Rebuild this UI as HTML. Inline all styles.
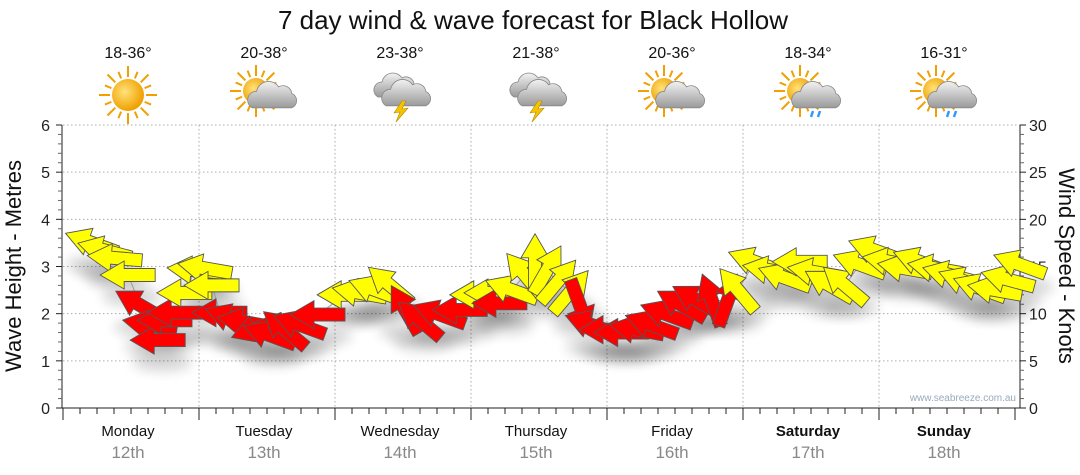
<!DOCTYPE html>
<html><head><meta charset="utf-8">
<style>
body{margin:0;background:#fff;font-family:"Liberation Sans",Arial,sans-serif;}
svg{display:block}
</style></head>
<body>
<svg id="chart" width="1080" height="475" viewBox="0 0 1080 475" xmlns="http://www.w3.org/2000/svg">
<defs>
<filter id="sh" x="-50%" y="-50%" width="200%" height="200%"><feGaussianBlur stdDeviation="6"/></filter>
<radialGradient id="sunG" cx="0.4" cy="0.4" r="0.6"><stop offset="0" stop-color="#ffe27a"/><stop offset="1" stop-color="#f0a000"/></radialGradient>
<linearGradient id="cloudG" x1="0" y1="0" x2="0" y2="1"><stop offset="0" stop-color="#f2f2f2"/><stop offset="1" stop-color="#9a9a9a"/></linearGradient>
</defs>
<text x="533" y="29" font-size="26" text-anchor="middle" fill="#111">7 day wind &amp; wave forecast for Black Hollow</text>
<g id="grid"></g>
<g id="axes"></g>
<g id="shadows"></g>
<polyline id="wline" fill="none" stroke="#999" stroke-width="1"/>
<g id="arrows"></g>
<g id="days"></g>
<text transform="translate(21,266) rotate(-90)" font-size="22" text-anchor="middle" fill="#111">Wave Height - Metres</text>
<text transform="translate(1059,266) rotate(90)" font-size="22" text-anchor="middle" fill="#111">Wind Speed - Knots</text>
<text x="1016" y="401" font-size="10" text-anchor="end" fill="#9ab">www.seabreeze.com.au</text>
</svg>
<script>
const dayNames=["Monday","Tuesday","Wednesday","Thursday","Friday","Saturday","Sunday"];
const dayDates=["12th","13th","14th","15th","16th","17th","18th"];
const dayTemps=["18-36°","20-38°","23-38°","21-38°","20-36°","18-34°","16-31°"];
const dayIcons=["sun","suncloud","storm","storm","suncloud","sunrain","sunrain"];
const waveTicks=[0,1,2,3,4,5,6];
const windTicks=[0,5,10,15,20,25,30];
const hours=[5.1,7.4,9.2,11.5,13.6,15.4,16.8,18,19.8,21.5,23.3,25.1,26.3,27.7,29.8,32.1,34.4,36.5,39.2,41.8,45,49.8,52.4,55.1,57.7,60.4,63,66.5,70.1,73.2,75.7,77.1,79.2,81.5,83.3,85.4,87.3,89.5,91.2,93.3,96,98.6,101.3,103.9,106.6,109.2,111.9,114.5,117.3,119.1,122.1,124.8,127.4,130.1,132.7,135.3,138,140.6,143.3,145.9,148.6,151.2,153.9,156.5,159.2,161.8,164.5,166.8,168.9];
const knots=[17.5,16.7,15.9,14.1,10.9,8.8,7.2,9.3,10.1,12.2,14.6,14.8,13.0,10.1,9.5,9.1,8.5,7.7,8.3,8.8,9.9,12.0,12.2,12.5,13.0,10.4,9.3,9.9,10.4,12.0,12.2,11.1,12.5,14.1,15.5,14.6,13.4,12.3,10.9,8.8,8.3,8.0,8.3,8.8,9.9,10.9,11.4,11.4,11.4,12.5,15.5,14.6,13.8,15.5,14.4,13.0,13.0,15.2,16.7,15.5,14.8,15.5,14.8,14.1,13.4,12.7,12.5,13.6,15.2];
const directions=[200,195,185,180,210,190,180,180,180,180,185,190,180,180,200,190,160,200,220,200,180,180,190,200,220,240,220,200,180,180,180,180,200,230,270,300,310,310,70,200,180,180,190,200,200,210,210,250,290,230,200,190,200,180,190,210,220,200,200,190,190,200,190,195,200,200,190,195,200];
const colors=["Y","Y","Y","Y","R","R","R","R","R","Y","Y","Y","Y","R","R","R","R","R","R","R","R","Y","Y","Y","Y","R","R","R","R","Y","Y","R","Y","Y","Y","Y","Y","Y","R","R","R","R","R","R","R","R","R","R","R","Y","Y","Y","Y","Y","Y","Y","Y","Y","Y","Y","Y","Y","Y","Y","Y","Y","Y","Y","Y"];

const X0=63,X1=1015,YT=125,YB=408;
const xH=h=>X0+h*(X1-X0)/168;
const yW=m=>YB-m*(YB-YT)/6;
const yK=k=>YB-k*(YB-YT)/30;
const NS="http://www.w3.org/2000/svg";
function mk(tag,attrs,parent,txt){const e=document.createElementNS(NS,tag);for(const k in attrs)e.setAttribute(k,attrs[k]);if(txt!=null)e.textContent=txt;parent.appendChild(e);return e;}
const grid=document.getElementById('grid'),axes=document.getElementById('axes');
waveTicks.forEach(t=>{if(t>0){const l=mk('line',{x1:X0,x2:X1+5,y1:yW(t),y2:yW(t),stroke:'#aaa','stroke-dasharray':'1.5,2.5'},grid);

}});
for(let d=1;d<7;d++){const l=mk('line',{x1:xH(d*24),x2:xH(d*24),y1:YT,y2:YB,stroke:'#aaa','stroke-dasharray':'1.5,2.5'},grid);

}
mk('line',{x1:62,x2:62,y1:YT,y2:YB,stroke:'#222'},axes);
mk('line',{x1:1020,x2:1020,y1:YT,y2:YB,stroke:'#222'},axes);
mk('line',{x1:62,x2:1020,y1:YB,y2:YB,stroke:'#222'},axes);
for(let m=0;m<=30;m++){const v=m/5,y=yW(v),maj=m%5==0;
mk('line',{x1:maj?56:58,x2:62,y1:y,y2:y,stroke:maj?'#222':'#666'},axes);
mk('line',{x1:1020,x2:maj?1026:1024,y1:y,y2:y,stroke:maj?'#222':'#666'},axes);}
waveTicks.forEach(t=>{const e=mk('text',{x:50,y:yW(t)+6,'font-size':16,'text-anchor':'end',fill:'#222'},axes,String(t));

});
windTicks.forEach(t=>{const e=mk('text',{x:1029,y:yK(t)+6,'font-size':16,fill:'#222'},axes,String(t));

});
for(let h=0;h<=168;h+=3){const x=xH(h),big=h%24==0;mk('line',{x1:x,x2:x,y1:YB,y2:YB+(big?12:6),stroke:'#222'},axes);}
const days=document.getElementById('days');
function icon(g,type,cx,cy){
 const sun=(sx,sy,r)=>{for(let i=0;i<16;i++){const a=i*Math.PI/8,l=i%2?r+9:r+13;mk('line',{x1:sx+Math.cos(a)*(r+2),y1:sy+Math.sin(a)*(r+2),x2:sx+Math.cos(a)*l,y2:sy+Math.sin(a)*l,stroke:'#f0a000','stroke-width':2},g);}mk('circle',{cx:sx,cy:sy,r:r,fill:'url(#sunG)'},g);};
 const cloud=(x,y,s)=>{const p=`M${x-18*s},${y+8*s} a${8*s},${8*s} 0 0 1 ${4*s},${-15*s} a${11*s},${11*s} 0 0 1 ${20*s},${-4*s} a${8*s},${8*s} 0 0 1 ${12*s},${6*s} a${7*s},${7*s} 0 0 1 ${0},${13*s} z`;mk('path',{d:p,fill:'url(#cloudG)',stroke:'#888','stroke-width':0.8},g);};
 if(type=='sun'){sun(cx,cy,16);}
 else if(type=='suncloud'||type=='sunrain'){sun(cx-8,cy-4,13);cloud(cx+8,cy+4,1.1);if(type=='sunrain'){mk('path',{d:`M${cx+5},${cy+16} l-2,6 M${cx+12},${cy+16} l-2,6`,stroke:'#39f','stroke-width':2.5},g);}}
 else {cloud(cx-4,cy-6,1);cloud(cx+6,cy+2,1.1);mk('polygon',{points:`${cx+2},${cy+6} ${cx-6},${cy+18} ${cx},${cy+17} ${cx-4},${cy+27} ${cx+8},${cy+13} ${cx+2},${cy+14} ${cx+6},${cy+6}`,fill:'#f5c400',stroke:'#b80','stroke-width':0.6},g);}
}
dayNames.forEach((n,i)=>{const cx=xH(i*24+12)-3;
const t=mk('text',{x:cx,y:58,'font-size':16,'text-anchor':'middle',fill:'#111'},days,dayTemps[i]);


const g=mk('g',{},days);


icon(g,dayIcons[i],cx,95);
const dn=mk('text',{x:cx,y:436,'font-size':15,'text-anchor':'middle',fill:'#111','font-weight':i>=5?'bold':'normal'},days,n);


const dd=mk('text',{x:cx,y:458,'font-size':17,'text-anchor':'middle',fill:'#888'},days,dayDates[i]);

});
const arrowPts="28,0 4,-14 4,-6.5 -27,-6.5 -27,6.5 4,6.5 4,14";
const ag=document.getElementById('arrows'),sg=document.getElementById('shadows');
document.getElementById('wline').setAttribute('points',hours.map((h,i)=>xH(h)+','+yK(knots[i])).join(' '));
hours.forEach((h,i)=>{const x=xH(h),y=yK(knots[i]);
mk('ellipse',{cx:x+4,cy:y+22,rx:30,ry:9,fill:'#000',opacity:0.16,filter:'url(#sh)'},sg);
const p=mk('polygon',{points:arrowPts,transform:`translate(${x},${y}) rotate(${directions[i]})`,fill:colors[i]=='Y'?'#ffff00':'#ff0000',stroke:'#555','stroke-width':0.9},ag);

});
</script>
</body></html>
